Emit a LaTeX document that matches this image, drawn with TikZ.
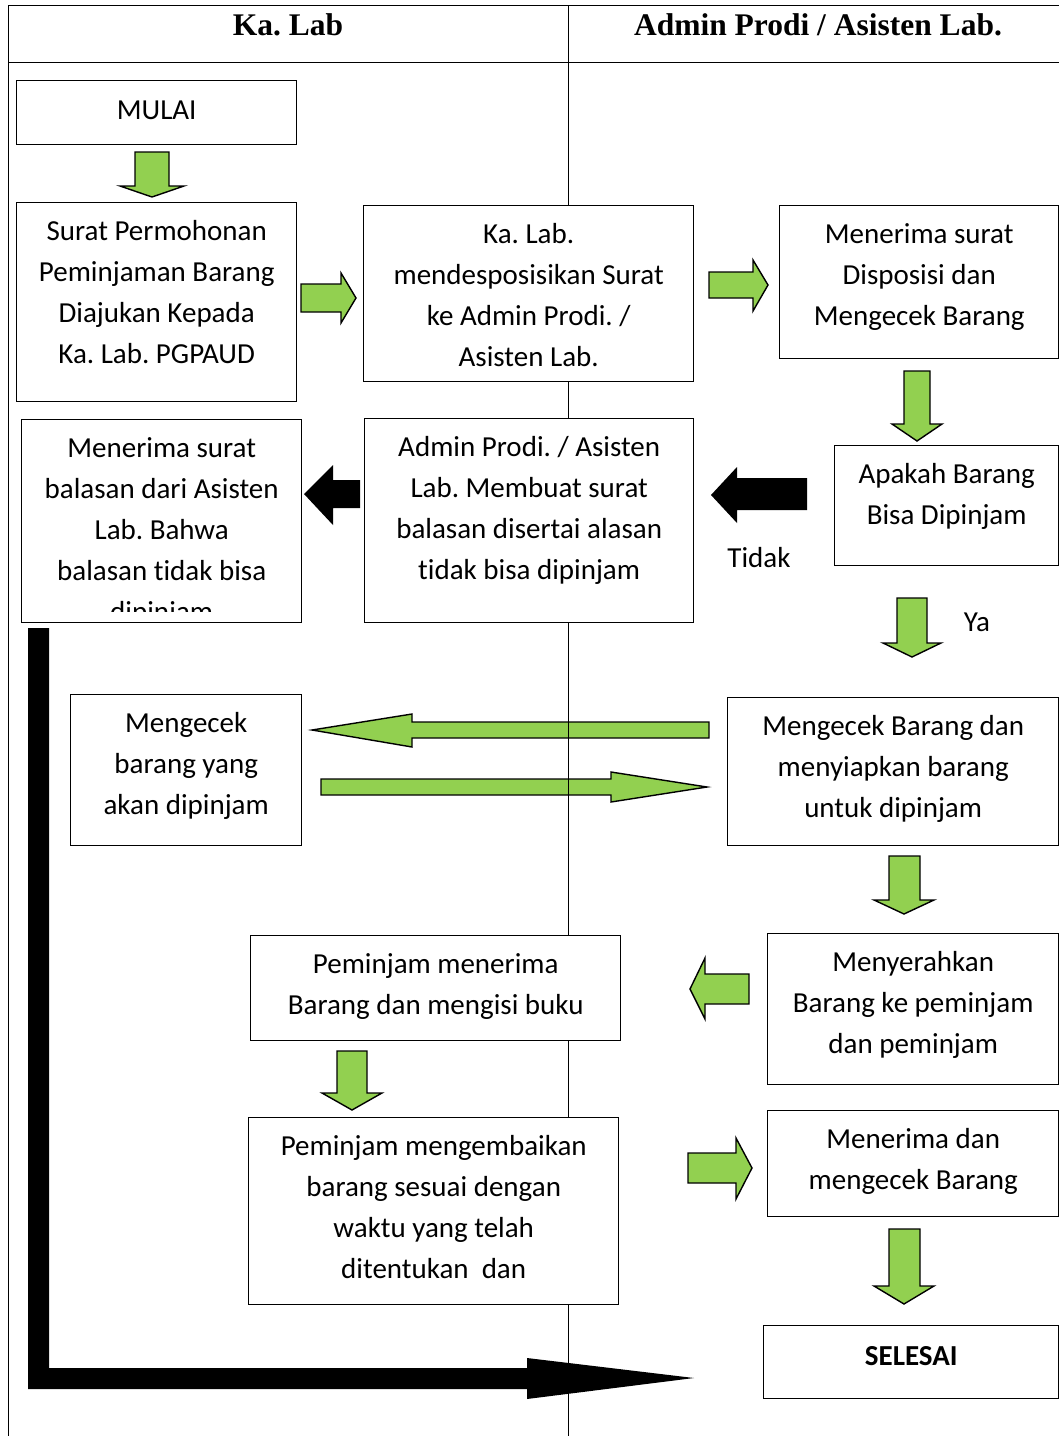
\documentclass[tikz,border=0pt]{standalone}
\usepackage{fontspec}
\setmainfont{Carlito}[Ligatures=NoCommon]
\newfontfamily\headfont{Liberation Serif}
\usetikzlibrary{positioning}
\frenchspacing

\begin{document}
\begin{tikzpicture}[x=1pt,y=-1pt,
    box/.style={draw,fill=white,line width=1.4pt,inner sep=0pt,anchor=north west},
    txt/.style={inner sep=0pt,align=center,font=\fontsize{29}{41}\selectfont},
    lbl/.style={inner sep=0pt,font=\fontsize{29}{41}\selectfont},
    head/.style={inner sep=0pt,anchor=base,font=\headfont\bfseries\fontsize{31.5}{38}\selectfont},
    lane/.style={line width=1pt},
    greenarrow/.style={draw=black,fill=okgreen,line width=1.4pt},
    blackarrow/.style={fill=black}]

  \definecolor{okgreen}{RGB}{146,208,80} % green

  \useasboundingbox (0,0) rectangle (1059,1436);

  % Draw green arrows
  \draw[greenarrow] (135,152) -- (169,152) -- (169,186) -- (184,186) -- (152,197) -- (120,186) -- (135,186) -- cycle;
  \draw[greenarrow] (301,284) -- (341,284) -- (341,273) -- (356,298) -- (341,323) -- (341,312) -- (301,312) -- cycle;
  \draw[greenarrow] (709,272) -- (753,272) -- (753,260) -- (768,285) -- (753,311) -- (753,298) -- (709,298) -- cycle;
  \draw[greenarrow] (904,371) -- (930,371) -- (930,424) -- (942,424) -- (917,441) -- (892,424) -- (904,424) -- cycle;
  \draw[greenarrow] (897,598) -- (927,598) -- (927,643) -- (941,643) -- (912,657) -- (883,643) -- (897,643) -- cycle;
  \draw[greenarrow] (709,722) -- (709,738) -- (412,738) -- (412,747) -- (312,730) -- (412,714) -- (412,722) -- cycle;
  \draw[greenarrow] (321,779) -- (611,779) -- (611,772) -- (707,787) -- (611,802) -- (611,795) -- (321,795) -- cycle;
  \draw[greenarrow] (889,856) -- (920,856) -- (920,900) -- (934,900) -- (904,914) -- (874,900) -- (889,900) -- cycle;
  \draw[greenarrow] (749,974) -- (749,1004) -- (705,1004) -- (705,1019) -- (690,989) -- (705,958) -- (705,974) -- cycle;
  \draw[greenarrow] (337,1051) -- (367,1051) -- (367,1093) -- (382,1093) -- (352,1110) -- (322,1093) -- (337,1093) -- cycle;
  \draw[greenarrow] (688,1153) -- (736,1153) -- (736,1138) -- (752,1168) -- (736,1199) -- (736,1183) -- (688,1183) -- cycle;
  \draw[greenarrow] (889,1229) -- (920,1229) -- (920,1286) -- (934,1286) -- (904,1304) -- (874,1286) -- (889,1286) -- cycle;

  % Draw black arrows
  \fill[blackarrow] (807,478) -- (807,510) -- (737,510) -- (737,523) -- (711,495) -- (737,467) -- (737,478) -- cycle;
  \fill[blackarrow] (360,480) -- (360,508) -- (333,508) -- (333,525) -- (304,494) -- (333,465) -- (333,480) -- cycle;
  \fill[blackarrow] (28,628) -- (49,628) -- (49,1368) -- (527,1368) -- (527,1358) -- (694,1378)
    -- (527,1399) -- (527,1389) -- (28,1389) -- cycle;

  % Draw lanes
  \draw[lane] (8,1436) -- (8,5) -- (1059,5);
  \draw[lane] (8,62) -- (1059,62);
  \draw[lane] (568,5) -- (568,1436);
  \node[head] (kalab) at (288,35) {Ka. Lab};
  \node[head] (admin) at (818,35) {Admin Prodi / Asisten Lab.};

  % Ka. Lab boxes
  \node[box,minimum width=280pt,minimum height=64pt] (mulai) at (16,80) {};
  \node[txt,below=21pt of mulai.north] (mulai-t) {MULAI};
  \node[box,minimum width=280pt,minimum height=199pt] (surat) at (16,202) {};
  \node[txt,below=18.5pt of surat.north] (surat-t)
    {Surat Permohonan\\Peminjaman Barang\\Diajukan Kepada\\Ka. Lab. PGPAUD};
  \node[box,minimum width=280pt,minimum height=203pt] (balasan) at (21,419) {};
  \begin{scope}
    \clip (21,419) rectangle (301,611);
    \node[txt,below=18.5pt of balasan.north] (balasan-t)
      {Menerima surat\\balasan dari Asisten\\Lab. Bahwa\\balasan tidak bisa\\dipinjam};
  \end{scope}
  \node[box,minimum width=231pt,minimum height=151pt] (cek) at (70,694) {};
  \node[txt,below=18.5pt of cek.north] (cek-t) {Mengecek\\barang yang\\akan dipinjam};
  \node[box,minimum width=370pt,minimum height=105pt] (menerima) at (250,935) {};
  \node[txt,below=18.5pt of menerima.north] (menerima-t)
    {Peminjam menerima\\Barang dan mengisi buku};
  \node[box,minimum width=370pt,minimum height=187pt] (kembali) at (248,1117) {};
  \node[txt,below=18.5pt of kembali.north] (kembali-t)
    {Peminjam mengembaikan\\barang sesuai dengan\\waktu yang telah\\ditentukan~ dan};

  % Admin boxes
  \node[box,minimum width=330pt,minimum height=176pt] (disposisi) at (363,205) {};
  \node[txt,below=18.5pt of disposisi.north] (disposisi-t)
    {Ka. Lab.\\mendesposisikan Surat\\ke Admin Prodi. /\\Asisten Lab.};
  \node[box,minimum width=329pt,minimum height=204pt] (balas) at (364,418) {};
  \node[txt,below=18.5pt of balas.north] (balas-t)
    {Admin Prodi. / Asisten\\Lab. Membuat surat\\balasan disertai alasan\\tidak bisa dipinjam};
  \node[box,minimum width=279pt,minimum height=153pt] (terima) at (779,205) {};
  \node[txt,below=18.5pt of terima.north] (terima-t)
    {Menerima surat\\Disposisi dan\\Mengecek Barang};
  \node[box,minimum width=224pt,minimum height=120pt] (apakah) at (834,445) {};
  \node[txt,below=18.5pt of apakah.north] (apakah-t) {Apakah Barang\\Bisa Dipinjam};
  \node[box,minimum width=331pt,minimum height=148pt] (siap) at (727,697) {};
  \node[txt,below=18.5pt of siap.north] (siap-t)
    {Mengecek Barang dan\\menyiapkan barang\\untuk dipinjam};
  \node[box,minimum width=291pt,minimum height=151pt] (serah) at (767,933) {};
  \node[txt,below=18.5pt of serah.north] (serah-t)
    {Menyerahkan\\Barang ke peminjam\\dan peminjam};
  \node[box,minimum width=291pt,minimum height=106pt] (periksa) at (767,1110) {};
  \node[txt,below=18.5pt of periksa.north] (periksa-t) {Menerima dan\\mengecek Barang};
  \node[box,minimum width=295pt,minimum height=73pt] (selesai) at (763,1325) {};
  \node[txt,below=21pt of selesai.north] (selesai-t) {\bfseries SELESAI};

  % Answers
  \node[lbl] (tidak) at (759,558) {Tidak};
  \node[lbl] (ya) at (977,622) {Ya};

\end{tikzpicture}
\end{document}
